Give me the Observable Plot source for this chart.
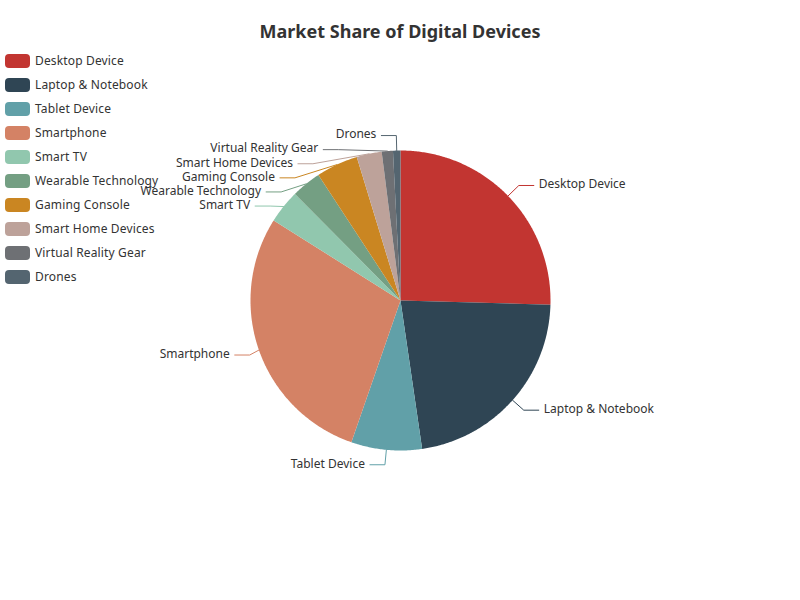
<!DOCTYPE html>
<html>
<head>
<meta charset="utf-8">
<script src="https://cdn.jsdelivr.net/npm/d3@7"></script>
<script src="https://cdn.jsdelivr.net/npm/@observablehq/plot@0.6"></script>
<style>
  html, body { margin: 0; padding: 0; background: #fff; }
  #wrap { position: relative; width: 800px; height: 600px; font-family: "Noto Sans", "Open Sans", sans-serif; }
  #title { position: absolute; left: 0; top: 20px; width: 800px; text-align: center; font-size: 18px; font-weight: bold; color: #333; line-height: 22px; }
  #legend { position: absolute; left: 5px; top: 54px; }
  .item { display: flex; align-items: center; height: 14px; margin-bottom: 10px; font-size: 12px; color: #333; white-space: nowrap; }
  .item .tx { position: relative; top: -1px; letter-spacing: 0.15px; }
  .sw { width: 25px; height: 14px; border-radius: 4px; margin-right: 5px; flex: none; }
  #chart { position: absolute; left: 0; top: 0; }
</style>
</head>
<body>
<div id="wrap">
  <div id="chart"></div>
  <div id="title">Market Share of Digital Devices</div>
  <div id="legend"></div>
</div>
<script>
const categories = ["Desktop Device", "Laptop & Notebook", "Tablet Device", "Smartphone", "Smart TV",
  "Wearable Technology", "Gaming Console", "Smart Home Devices", "Virtual Reality Gear", "Drones"];
const values = [25.4, 22.2, 7.6, 28.6, 3.6, 3.2, 4.5, 2.7, 1.2, 0.8];
const colors = ["#c23531", "#2f4554", "#61a0a8", "#d48265", "#91c7ae",
  "#749f83", "#ca8622", "#bda29a", "#6e7074", "#546570"];

// layout constants (ECharts-like pie)
const cx = 400, cy = 300, r = 150, len = 15, len2 = 15, labelDist = 5, lineH = 14.1;

const arcs = d3.pie().sort(null).value(d => d)(values);

// slice polygons
const slicePts = [];
arcs.forEach((a, i) => {
  const name = categories[i];
  const n = Math.max(2, Math.ceil((a.endAngle - a.startAngle) / (Math.PI / 360)));
  slicePts.push({name, x: cx, y: cy});
  for (let k = 0; k <= n; k++) {
    const ang = a.startAngle + (a.endAngle - a.startAngle) * k / n;
    slicePts.push({name, x: cx + r * Math.sin(ang), y: cy - r * Math.cos(ang)});
  }
  slicePts.push({name, x: cx, y: cy});
});

// labels
const labels = arcs.map((a, i) => {
  const mid = (a.startAngle + a.endAngle) / 2;
  const nx = Math.sin(mid), ny = -Math.cos(mid);
  const x1 = cx + r * nx, y1 = cy + r * ny;
  const x2 = x1 + nx * len, y2 = y1 + ny * len;
  const dir = nx < 0 ? -1 : 1;
  const x3 = x2 + dir * len2;
  return {name: categories[i], dir, x1, y1, x2, x3, y: y2, x: x3 + dir * labelDist, dist: x2 - x3};
});

function adjustSide(list, dir) {
  if (list.length < 2) return;
  list.sort((a, b) => a.y - b.y);
  let last = 0, adjusted = false;
  for (const it of list) {
    let top = it.y - lineH / 2;
    if (top < last) { it.y += last - top; top = last; adjusted = true; }
    last = top + lineH;
  }
  if (!adjusted) return;
  for (const down of [false, true]) {
    const items = list.filter(it => (it.y > cy) === down);
    let maxY = 0, rB = r + len;
    const rA = r + len;
    for (const it of items) {
      const dy = Math.abs(it.y - cy);
      if (dy >= maxY) {
        const dx = it.x - cx - len2 * dir;
        rB = Math.abs(dx) < rA ? Math.sqrt(dy * dy / (1 - dx * dx / rA / rA)) : rA;
        maxY = dy;
      }
    }
    for (const it of items) {
      const dy = Math.abs(it.y - cy);
      const dx = Math.sqrt(Math.max(0, 1 - dy * dy / (rB * rB)) * rA * rA);
      it.x = cx + (dx + len2) * dir;
    }
  }
}
adjustSide(labels.filter(d => d.dir < 0), -1);
adjustSide(labels.filter(d => d.dir > 0), 1);

const linePts = [];
labels.forEach(d => {
  const p2x = d.dir < 0 ? d.x + labelDist : d.x - labelDist;
  const p1x = p2x + d.dist;
  linePts.push({name: d.name, x: d.x1, y: d.y1});
  linePts.push({name: d.name, x: p1x, y: d.y});
  linePts.push({name: d.name, x: p2x, y: d.y});
});

const chart = Plot.plot({
  width: 800, height: 600, margin: 0,
  style: {fontFamily: '"Noto Sans", "Open Sans", sans-serif', fontSize: "12px", background: "transparent"},
  x: {domain: [0, 800], range: [0, 800], axis: null},
  y: {domain: [0, 600], range: [0, 600], axis: null},
  color: {domain: categories, range: colors},
  marks: [
    Plot.line(slicePts, {x: "x", y: "y", z: "name", fill: "name", stroke: "none", curve: "linear"}),
    Plot.line(linePts, {x: "x", y: "y", z: "name", stroke: "name", strokeWidth: 1}),
    Plot.text(labels.filter(d => d.dir < 0), {x: "x", y: "y", dy: -1, text: "name", textAnchor: "end", fill: "#333", fontSize: 12}),
    Plot.text(labels.filter(d => d.dir > 0), {x: "x", y: "y", dy: -1, text: "name", textAnchor: "start", fill: "#333", fontSize: 12})
  ]
});
document.getElementById("chart").appendChild(chart);

const legend = document.getElementById("legend");
categories.forEach((c, i) => {
  const it = document.createElement("div");
  it.className = "item";
  it.innerHTML = `<span class="sw" style="background:${colors[i]}"></span><span class="tx"></span>`;
  it.lastChild.textContent = c;
  legend.appendChild(it);
});
</script>
</body>
</html>
